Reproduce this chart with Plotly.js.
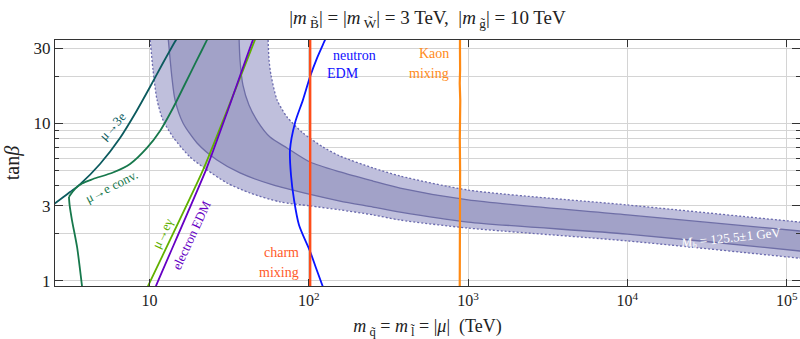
<!DOCTYPE html>
<html><head><meta charset="utf-8">
<script src="https://cdn.plot.ly/plotly-3.0.1.min.js"></script>
<style>html,body{margin:0;padding:0;background:#fff}#chart{width:800px;height:339px}</style>
</head><body><div id="chart"></div>
<script>
// ---- Higgs mass band boundaries (x: TeV, y: tan beta) ----
const outerLowX = [10.05, 10.52, 11.15, 12.15, 14.05, 17.96, 22.96, 30.65, 42.7, 65.9, 101.7, 157, 253, 374, 1000, 10000, 121000, 150000];
const outerLowY = [36, 21.9, 14.1, 10.5, 8.19, 6.11, 5.06, 4.18, 3.61, 3.17, 2.99, 2.82, 2.62, 2.43, 2.16, 1.79, 1.39, 1.36];
const innerLowX = [13.06, 13.84, 14.46, 16.23, 19.87, 26.53, 37.0, 59.6, 98.9, 157, 253, 374, 1000, 10000, 121000, 150000];
const innerLowY = [36, 19.45, 14.1, 10.06, 7.51, 5.85, 4.84, 4.06, 3.56, 3.21, 2.94, 2.73, 2.36, 1.98, 1.545, 1.51];
const innerUpX = [36.46, 37.0, 38.6, 42.1, 48.0, 57.1, 73.0, 101.7, 157, 253, 374, 1000, 10000, 121000, 150000];
const innerUpY = [36, 25.3, 17.5, 13.1, 10.2, 8.19, 6.98, 5.68, 4.91, 4.30, 3.88, 3.26, 2.62, 2.07, 2.03];
const outerUpX = [55.4, 56.3, 57.9, 63.2, 73.0, 91.9, 122.7, 157, 253, 374, 1000, 10000, 121000, 150000];
const outerUpY = [36, 25.3, 20.3, 14.1, 10.98, 8.69, 7.08, 6.20, 5.21, 4.63, 3.77, 3.03, 2.36, 2.32];

// ---- constraint curves ----
const mu3eX = [2.4, 2.55, 3.17, 3.66, 4.89, 6.53, 8.23, 10.07, 12.15, 14.67, 15.3];
const mu3eY = [2.95, 3.10, 3.66, 4.10, 5.52, 8.08, 11.82, 17.03, 24.2, 33.9, 36];
const convLowX = [3.77, 3.51, 3.26, 3.15, 3.12];
const convLowY = [0.925, 1.64, 2.43, 3.03, 3.41];
const convUpX = [3.12, 3.41, 3.77, 4.42, 5.90, 7.55, 9.64, 11.64, 14.05, 16.71, 19.58, 22.96, 23.6];
const convUpY = [3.41, 3.83, 4.15, 4.43, 4.87, 5.52, 6.98, 8.95, 12.53, 17.8, 24.6, 33.9, 36];
const megX = [9.6, 9.79, 21.7, 45.9, 47];
const megY = [0.88, 0.925, 5.06, 33.9, 36];
const eedmX = [10.8, 10.98, 22.63, 31.1, 44.6, 46];
const eedmY = [0.88, 0.925, 5.06, 12.17, 33.9, 36];
const nedmX = [128, 126.4, 112.6, 101.7, 91.9, 81.9, 76.2, 77.3, 80.8, 86.8, 101.5, 111.0, 122.7];
const nedmY = [35, 33.9, 26.0, 19.7, 14.1, 10.06, 6.78, 4.70, 3.26, 2.26, 1.55, 1.204, 0.912];
const charmX = [102, 102];
const charmY = [0.85, 40];
const kaonX = [886, 889, 888, 891, 887, 890, 893, 886, 891, 889, 890];
const kaonY = [0.85, 1.5, 3, 5, 8, 10, 14, 18, 22, 30, 40];

// ---- axis ticks ----
const xTicks = [10, 100, 1000, 10000, 100000];
const xTickText = ['10', '10<sup>2</sup>', '10<sup>3</sup>', '10<sup>4</sup>', '10<sup>5</sup>'];
const yTicks = [1, 3, 10, 30];
const yTickText = ['1', '3', '10', '30'];
const yMinor = [2, 4, 5, 6, 7, 8, 9, 20];

const SERIF = 'Liberation Serif, Times New Roman, serif';
const rev = a => a.slice().reverse();

const traces = [
  {x: outerLowX.concat(rev(outerUpX)), y: outerLowY.concat(rev(outerUpY)), mode: 'lines', fill: 'toself',
   fillcolor: '#bfbfdc', line: {width: 0, shape: 'spline', smoothing: 0.7}},
  {x: innerLowX.concat(rev(innerUpX)), y: innerLowY.concat(rev(innerUpY)), mode: 'lines', fill: 'toself',
   fillcolor: '#a2a2c8', line: {width: 0, shape: 'spline', smoothing: 0.7}},
  {x: innerLowX, y: innerLowY, mode: 'lines', line: {color: '#6e6ea6', width: 1.3, shape: 'spline', smoothing: 0.7}},
  {x: innerUpX, y: innerUpY, mode: 'lines', line: {color: '#6e6ea6', width: 1.3, shape: 'spline', smoothing: 0.7}},
  {x: outerLowX, y: outerLowY, mode: 'lines', line: {color: '#6a6aae', width: 1.3, dash: '2px,2px', shape: 'spline', smoothing: 0.7}},
  {x: outerUpX, y: outerUpY, mode: 'lines', line: {color: '#6a6aae', width: 1.3, dash: '2px,2px', shape: 'spline', smoothing: 0.7}},
  {x: mu3eX, y: mu3eY, mode: 'lines', line: {color: '#0b5a5e', width: 1.8, shape: 'spline', smoothing: 0.8}},
  {x: convLowX, y: convLowY, mode: 'lines', line: {color: '#17784c', width: 1.8, shape: 'spline', smoothing: 0.6}},
  {x: convUpX, y: convUpY, mode: 'lines', line: {color: '#17784c', width: 1.8, shape: 'spline', smoothing: 0.8}},
  {x: megX, y: megY, mode: 'lines', line: {color: '#62b000', width: 1.8, shape: 'spline', smoothing: 0.5}},
  {x: eedmX, y: eedmY, mode: 'lines', line: {color: '#6600c4', width: 1.8, shape: 'spline', smoothing: 0.5}},
  {x: nedmX, y: nedmY, mode: 'lines', line: {color: '#0a14ff', width: 1.8, shape: 'spline', smoothing: 0.8}},
  {x: charmX, y: charmY, mode: 'lines', line: {color: '#ff4d1a', width: 2.4}},
  {x: kaonX, y: kaonY, mode: 'lines', line: {color: '#ff8a14', width: 2.2}}
];
traces.forEach(t => { t.showlegend = false; t.hoverinfo = 'skip'; t.type = 'scatter'; });

const L = 55, R = 800, T = 40, B = 286;
const px = v => (v - L) / (R - L);
const py = v => (B - v) / (B - T);
function ann(text, x, y, color, size, angle, xanchor) {
  return {text: text, x: px(x), y: py(y), xref: 'paper', yref: 'paper', showarrow: false,
    font: {family: SERIF, size: size, color: color}, textangle: angle || 0,
    xanchor: xanchor || 'center', yanchor: 'middle'};
}

const layout = {
  width: 800, height: 339,
  margin: {l: L, r: 800 - R, t: T, b: 339 - B},
  paper_bgcolor: '#fff', plot_bgcolor: '#fff',
  font: {family: SERIF, color: '#222'},
  title: {text: '|<i>m</i><sub> B\u0303</sub>| = |<i>m</i><sub> W\u0303</sub>| = 3 TeV,  |<i>m</i><sub> g\u0303</sub>| = 10 TeV',
          font: {family: SERIF, size: 19, color: '#222'}, xref: 'paper', x: 0.5, xanchor: 'center',
          yref: 'container', y: 0.95, yanchor: 'middle'},
  xaxis: {type: 'log', range: [0.4068, 5.0835], tickmode: 'array', tickvals: xTicks, ticktext: xTickText,
          ticks: 'inside', ticklen: 7, tickcolor: '#333', showgrid: true, gridcolor: '#d4d4d4', gridwidth: 1,
          showline: true, linecolor: '#333', linewidth: 1.2, mirror: 'allticks', zeroline: false,
          tickfont: {family: SERIF, size: 16, color: '#222'},
          title: {text: '<i>m</i><sub> q\u0303</sub> = <i>m</i><sub> l\u0303</sub> = |<i>\u03bc</i>|  (TeV)',
                  font: {family: SERIF, size: 18, color: '#222'}, standoff: 12}},
  yaxis: {type: 'log', range: [-0.0337, 1.530], tickmode: 'array', tickvals: yTicks, ticktext: yTickText,
          ticks: 'inside', ticklen: 8, tickcolor: '#333', showgrid: true, gridcolor: '#d4d4d4', gridwidth: 1,
          minor: {tickmode: 'array', tickvals: yMinor, ticks: 'inside', ticklen: 4, tickcolor: '#333',
                  showgrid: true, gridcolor: '#d4d4d4', gridwidth: 1},
          showline: true, linecolor: '#333', linewidth: 1.2, mirror: 'allticks', zeroline: false,
          tickfont: {family: SERIF, size: 17, color: '#222'},
          title: {text: 'tan<i>\u03b2</i>', font: {family: SERIF, size: 20, color: '#222'}, standoff: 8}},
  annotations: [
    ann('neutron', 354, 55, '#1010ff', 14),
    ann('EDM', 343, 73, '#1010ff', 14),
    ann('Kaon', 451, 53, '#ff8a20', 14, 0, 'right'),
    ann('mixing', 451, 73, '#ff8a20', 14, 0, 'right'),
    ann('charm', 301, 252, '#ff5a2a', 14, 0, 'right'),
    ann('mixing', 301, 272, '#ff5a2a', 14, 0, 'right'),
    ann('<i>M<sub>h</sub></i> = 125.5\u00b11 GeV', 731, 238, '#ffffff', 13, -6),
    ann('\u03bc\u21923e', 112, 126, '#0b5a5e', 13, -48),
    ann('\u03bc\u2192e conv.', 111, 186, '#17784c', 13, -27),
    ann('\u03bc\u2192e\u03b3', 162, 233, '#62b000', 13, -64),
    ann('electron EDM', 191, 235, '#6600c4', 13, -65)
  ],
  showlegend: false, hovermode: false
};

Plotly.newPlot('chart', traces, layout, {staticPlot: true, displayModeBar: false});
</script>
</body></html>
